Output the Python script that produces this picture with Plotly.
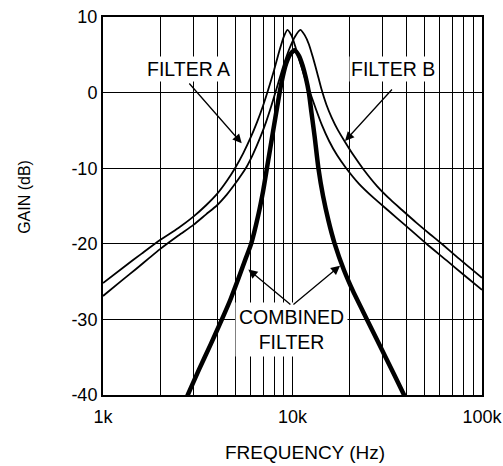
import plotly.graph_objects as go

# frequencies (Hz) and gains (dB)
freq_a = [1000, 1300, 1600, 2000, 2500, 3000, 3500, 4000, 4500, 5000, 5500, 6000,
          6500, 7000, 7450, 8000, 8500, 9000, 9400, 9900, 10400, 11000, 11700,
          12500, 13300, 14300, 15600, 17200, 19200, 22500, 27000, 32000, 40000,
          50900, 65000, 80000, 100000]
gain_a = [-25.2, -23.0, -21.3, -19.5, -17.9, -16.4, -14.9, -13.4, -11.7, -9.9, -8.0,
          -6.0, -3.9, -1.7, 0.4, 3.0, 5.4, 7.4, 8.3, 7.5, 5.9, 3.9, 1.7,
          -0.3, -2.2, -4.3, -6.4, -8.3, -10.0, -12.1, -14.0, -15.6, -17.7,
          -20.0, -22.2, -24.1, -26.1]

freq_b = [1000, 1250, 1500, 1750, 2000, 2500, 3000, 3500, 4000, 4500, 5000, 5400,
          5730, 6200, 6740, 7250, 7700, 8100, 8600, 9100, 9700, 10300, 11000,
          11600, 12200, 12800, 13500, 14200, 15100, 16100, 17400, 18900, 21000,
          23600, 28000, 33000, 37700, 45000, 53000, 61300, 75000, 100000]
gain_b = [-26.9, -24.9, -23.3, -21.9, -20.7, -18.9, -17.5, -16.1, -14.9, -13.5, -12.0, -10.8,
          -9.8, -8.1, -6.0, -3.9, -1.9, -0.1, 2.1, 4.1, 6.0, 7.4, 8.3,
          7.6, 6.4, 4.7, 2.6, 0.5, -1.6, -3.3, -5.0, -6.5, -8.3,
          -10.1, -12.4, -14.2, -15.5, -17.2, -18.7, -20.0, -21.9, -24.5]

freq_c = [2700, 2800, 3200, 3700, 4240, 4700, 5200, 5650, 6050, 6600, 7000, 7330,
          7900, 8550, 8900, 9250, 9700, 10250, 10800, 11300, 11750, 12200, 12600,
          13100, 13700, 14500, 15500, 16700, 18700, 20900, 24700, 31000, 38800, 40000]
gain_c = [-40.9, -40.0, -36.7, -33.3, -30.0, -27.4, -24.5, -22.0, -20.0, -16.2, -13.0, -10.0,
          -5.1, 0.0, 2.2, 3.8, 5.0, 5.6, 4.9, 3.6, 2.0, 0.0, -2.7,
          -5.9, -10.0, -13.7, -17.0, -20.0, -23.5, -26.3, -30.0, -35.0, -40.0, -40.7]

x_ticks = [1000, 2000, 3000, 4000, 5000, 6000, 7000, 8000, 9000,
           10000, 20000, 30000, 40000, 50000, 60000, 70000, 80000, 90000, 100000]
x_tick_text = ["1k", "", "", "", "", "", "", "", "",
               "10k", "", "", "", "", "", "", "", "", "100k"]
y_ticks = [-40, -30, -20, -10, 0, 10]
y_tick_text = ["-40", "-30", "-20", "-10", "0", "10"]

FONT = "Liberation Sans, Arial, Helvetica, sans-serif"

fig = go.Figure()
for fx, gy, w in [(freq_a, gain_a, 1.8), (freq_b, gain_b, 1.8), (freq_c, gain_c, 4.5)]:
    fig.add_trace(go.Scatter(
        x=fx, y=gy, mode="lines",
        line=dict(color="black", width=w, shape="spline", smoothing=0.6),
        showlegend=False, hoverinfo="skip",
    ))

# labels and arrows (x in log10 data coords)
txt = dict(family=FONT, size=19.5, color="black")
fig.add_annotation(x=3.451, y=3.1, text="FILTER A", showarrow=False,
                   bgcolor="white", borderpad=1, font=txt)
fig.add_annotation(x=4.530, y=3.1, text="FILTER B", showarrow=False,
                   bgcolor="white", borderpad=1, font=txt)
fig.add_annotation(x=3.997, y=-31.4, text="COMBINED<br>FILTER", showarrow=False,
                   bgcolor="white", borderpad=3, font=txt)

arr = dict(showarrow=True, arrowhead=2, arrowsize=1.4, arrowwidth=1.3, arrowcolor="black",
           axref="x", ayref="y", text="")
fig.add_annotation(x=3.732, y=-6.7, ax=3.4485, ay=1.4, **arr)
fig.add_annotation(x=4.277, y=-6.4, ax=4.532, ay=0.6, **arr)
fig.add_annotation(x=3.767, y=-23.4, ax=3.997, ay=-28.2, **arr)
fig.add_annotation(x=4.251, y=-22.9, ax=3.997, ay=-28.2, **arr)

# axis titles
fig.add_annotation(xref="paper", yref="paper", x=0.533, y=-0.1508, text="FREQUENCY (Hz)",
                   xanchor="center", yanchor="middle", showarrow=False, borderpad=0,
                   font=dict(family=FONT, size=19, color="black"))
fig.add_annotation(xref="paper", yref="paper", x=-0.206, y=0.524, text="GAIN (dB)",
                   xanchor="center", yanchor="middle", textangle=-90, showarrow=False,
                   font=dict(family=FONT, size=16, color="black"))

fig.update_xaxes(
    type="log", range=[3, 5], tickvals=x_ticks, ticktext=x_tick_text,
    showgrid=True, gridcolor="black", gridwidth=1.2,
    showline=True, linecolor="black", linewidth=2, mirror=True,
    ticks="", ticklabelstandoff=4, automargin=False,
    tickfont=dict(family=FONT, size=18, color="black"), zeroline=False,
)
fig.update_yaxes(
    range=[-40, 10], tickvals=y_ticks, ticktext=y_tick_text,
    showgrid=True, gridcolor="black", gridwidth=1.3,
    showline=True, linecolor="black", linewidth=2, mirror=True,
    ticks="", automargin=False,
    tickfont=dict(family=FONT, size=18, color="black"), zeroline=False,
)
fig.update_layout(
    width=503, height=466,
    margin=dict(l=103, r=21, t=17, b=71),
    plot_bgcolor="white", paper_bgcolor="white",
)

fig.write_html(
    "out.html",
    config={"displayModeBar": False},
    post_script="document.body.style.margin='0px';"
                "document.body.style.overflow='hidden';"
                "document.documentElement.style.overflow='hidden';",
)
